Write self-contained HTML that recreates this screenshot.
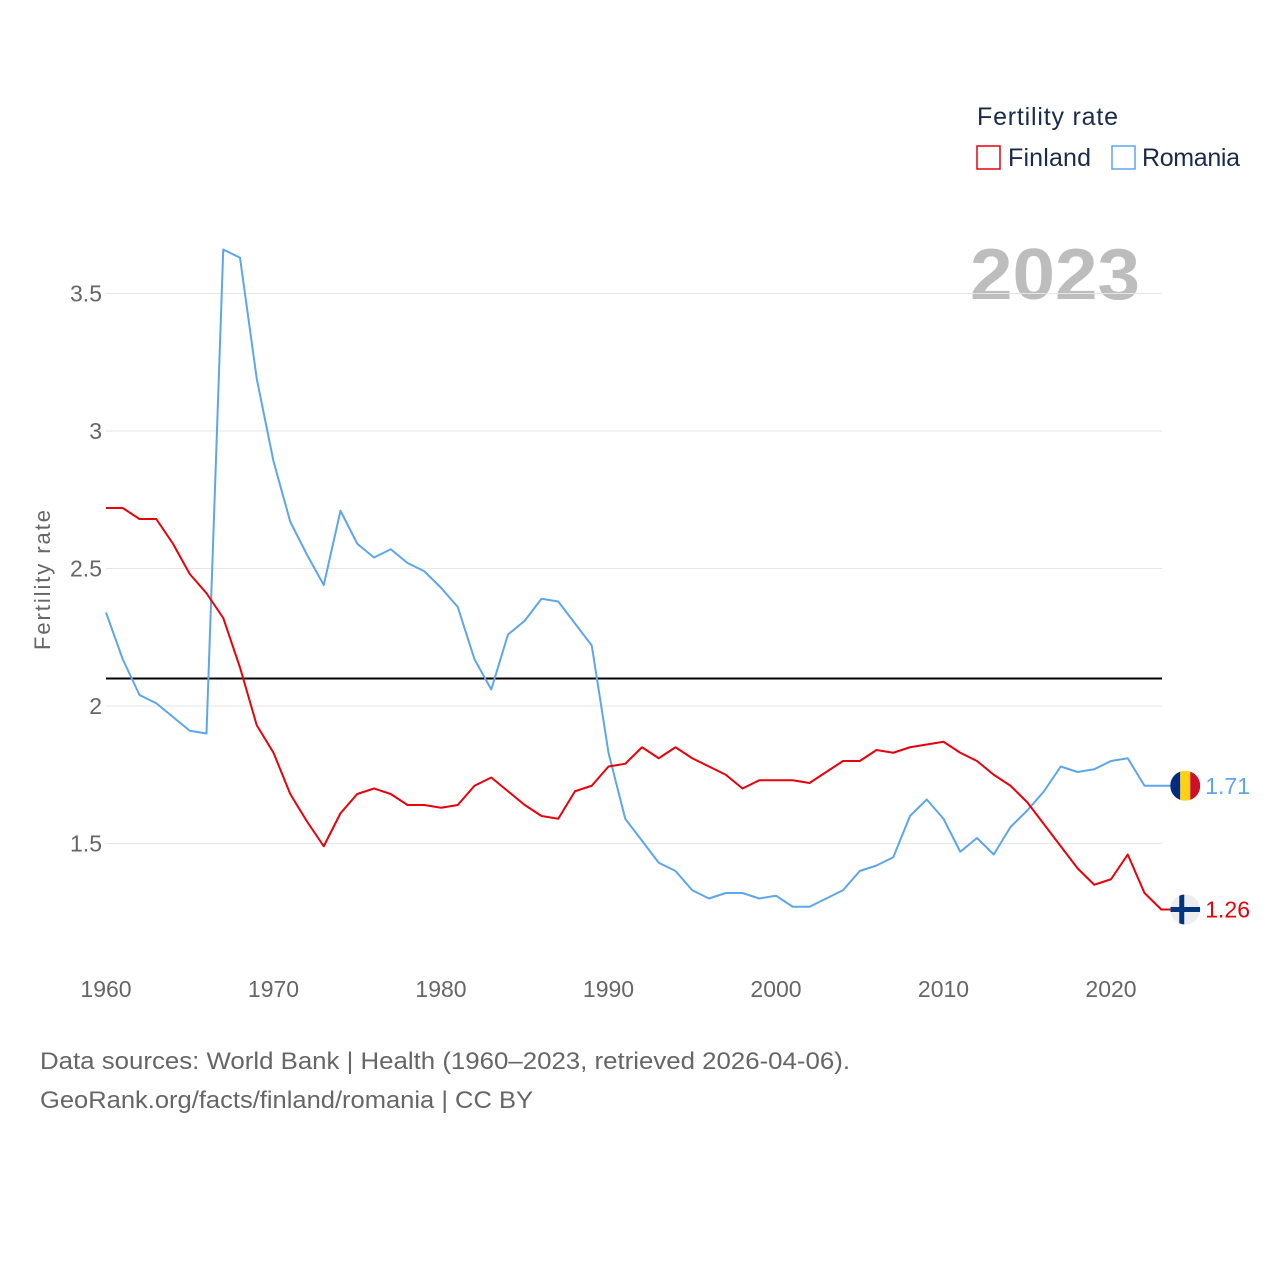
<!DOCTYPE html>
<html><head><meta charset="utf-8"><style>
body{margin:0;background:#fff;font-family:"Liberation Sans",sans-serif;}
svg text{font-family:"Liberation Sans",sans-serif;}
</style></head><body>
<svg id="chart" width="1280" height="1280" xmlns="http://www.w3.org/2000/svg">
<text x="977" y="125" font-size="25" fill="#1a2a4a" textLength="141">Fertility rate</text>
<g><rect x="977" y="146" width="23" height="23" fill="none" stroke="#e8000b" stroke-width="1.5"/><text x="1008" y="166" font-size="25" fill="#1a2a4a" textLength="83">Finland</text></g>
<g><rect x="1112" y="146" width="23" height="23" fill="none" stroke="#5ea6ea" stroke-width="1.5"/><text x="1142" y="166" font-size="25" fill="#1a2a4a" textLength="98">Romania</text></g>
<text x="970" y="299" font-size="72" font-weight="bold" fill="#bdbdbd" textLength="170" lengthAdjust="spacingAndGlyphs">2023</text>
<text transform="translate(50,580) rotate(-90)" font-size="22" fill="#666" text-anchor="middle" textLength="140">Fertility rate</text>
<g id="grid"></g><g id="series"></g>
<text x="40" y="1069" font-size="24" fill="#666" textLength="810" lengthAdjust="spacingAndGlyphs">Data sources: World Bank | Health (1960–2023, retrieved 2026-04-06).</text>
<text x="40" y="1108" font-size="24" fill="#666" textLength="493" lengthAdjust="spacingAndGlyphs">GeoRank.org/facts/finland/romania | CC BY</text>
</svg>
<script>
const years=[];for(let y=1960;y<=2023;y++)years.push(y);
const finland=[2.72,2.72,2.68,2.68,2.59,2.48,2.41,2.32,2.14,1.93,1.83,1.68,1.58,1.49,1.61,1.68,1.70,1.68,1.64,1.64,1.63,1.64,1.71,1.74,1.69,1.64,1.60,1.59,1.69,1.71,1.78,1.79,1.85,1.81,1.85,1.81,1.78,1.75,1.70,1.73,1.73,1.73,1.72,1.76,1.80,1.80,1.84,1.83,1.85,1.86,1.87,1.83,1.80,1.75,1.71,1.65,1.57,1.49,1.41,1.35,1.37,1.46,1.32,1.26];
const romania=[2.34,2.17,2.04,2.01,1.96,1.91,1.90,3.66,3.63,3.19,2.89,2.67,2.55,2.44,2.71,2.59,2.54,2.57,2.52,2.49,2.43,2.36,2.17,2.06,2.26,2.31,2.39,2.38,2.30,2.22,1.83,1.59,1.51,1.43,1.40,1.33,1.30,1.32,1.32,1.30,1.31,1.27,1.27,1.30,1.33,1.40,1.42,1.45,1.60,1.66,1.59,1.47,1.52,1.46,1.56,1.62,1.69,1.78,1.76,1.77,1.80,1.81,1.71,1.71];
const yTicks=[1.5,2,2.5,3,3.5];
const yTickLabels=["1.5","2","2.5","3","3.5"];
const xTicks=[1960,1970,1980,1990,2000,2010,2020];
const replacement=2.1;
const NS="http://www.w3.org/2000/svg";
const X=y=>106+(y-1960)*16.75;
const Y=v=>706-(v-2)*275;
const grid=document.getElementById('grid'),ser=document.getElementById('series');
function mk(t,a,p){const e=document.createElementNS(NS,t);for(const k in a)e.setAttribute(k,a[k]);p.appendChild(e);return e;}
yTicks.forEach((v,i)=>{
 const l=mk('line',{x1:106,x2:1162,y1:Y(v),y2:Y(v),stroke:'#e6e6e6','stroke-width':1},grid);
 
 
 const t=mk('text',{x:102,y:Y(v)+8,'font-size':23,fill:'#666','text-anchor':'end'},grid);t.textContent=yTickLabels[i];
 
 
});
xTicks.forEach(v=>{
 const t=mk('text',{x:X(v),y:997,'font-size':23,fill:'#666','text-anchor':'middle'},grid);t.textContent=v;
 
 
});
const rl=mk('line',{x1:106,x2:1162,y1:Y(replacement),y2:Y(replacement),stroke:'#000','stroke-width':2},ser);


const last=years.length-1,ex=X(years[last])+24;
function line(d,c,n){const p=mk('polyline',{points:d.map((v,i)=>X(years[i])+','+Y(v)).join(' ')+' '+ex+','+Y(d[last]),fill:'none',stroke:c,'stroke-width':2,'stroke-linejoin':'round'},ser);
 
 }
line(romania,'#5ea6ea','romania-line');
line(finland,'#e8000b','finland-line');
// Romania flag
const ry=Y(romania[last]);
const rg=mk('g',{},ser);


mk('clipPath',{id:'cr'},rg);mk('circle',{cx:ex,cy:ry,r:15},document.getElementById('cr'));
mk('rect',{x:ex-15,y:ry-15,width:10,height:30,fill:'#002b7f','clip-path':'url(#cr)'},rg);
mk('rect',{x:ex-5,y:ry-15,width:10,height:30,fill:'#fcd116','clip-path':'url(#cr)'},rg);
mk('rect',{x:ex+5,y:ry-15,width:10,height:30,fill:'#ce1126','clip-path':'url(#cr)'},rg);
const rt=mk('text',{x:ex+20,y:ry+8,'font-size':23,fill:'#5ea6ea'},ser);rt.textContent=romania[last].toFixed(2);


// Finland flag
const fy=Y(finland[last]);
const fg=mk('g',{},ser);


mk('clipPath',{id:'cf'},fg);mk('circle',{cx:ex,cy:fy,r:15},document.getElementById('cf'));
mk('circle',{cx:ex,cy:fy,r:15,fill:'#eee'},fg);
mk('rect',{x:ex-15,y:fy-2.5,width:30,height:5,fill:'#003580','clip-path':'url(#cf)'},fg);
mk('rect',{x:ex-6,y:fy-15,width:5,height:30,fill:'#003580','clip-path':'url(#cf)'},fg);
const ft=mk('text',{x:ex+20,y:fy+8,'font-size':23,fill:'#e8000b'},ser);ft.textContent=finland[last].toFixed(2);


</script>
</body></html>
